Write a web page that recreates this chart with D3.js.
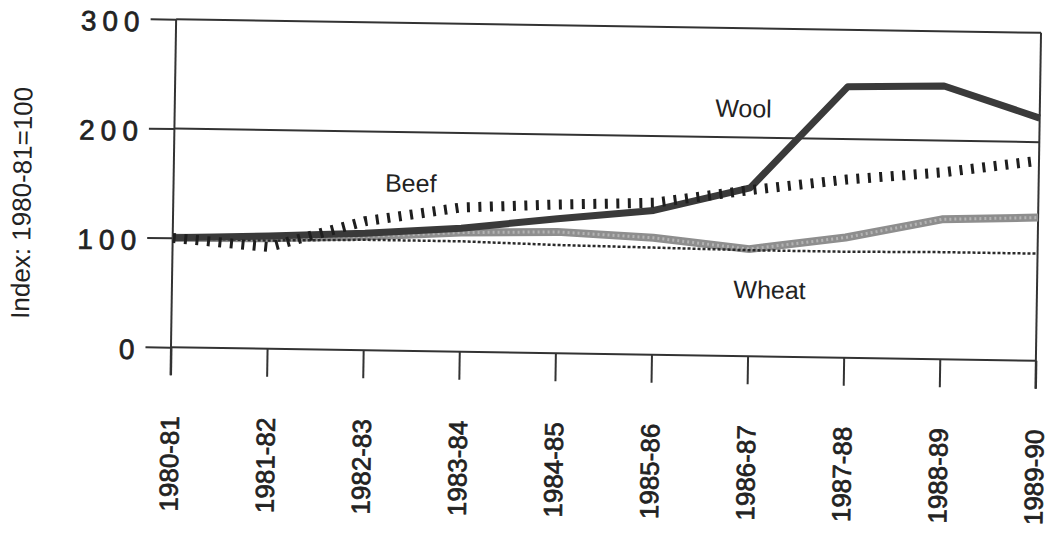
<!DOCTYPE html>
<html>
<head>
<meta charset="utf-8">
<script src="https://cdn.jsdelivr.net/npm/d3@7/dist/d3.min.js"></script>
<style>
  html, body { margin: 0; padding: 0; background: #ffffff; }
  svg { display: block; }
  text { font-family: "Liberation Sans", Arial, Helvetica, sans-serif; fill: #222; }
</style>
</head>
<body>
<div id="chart"></div>
<script>
// ---- data (index, 1980-81 = 100) ----
const years = ["1980-81","1981-82","1982-83","1983-84","1984-85","1985-86","1986-87","1987-88","1988-89","1989-90"];
const wool  = [100, 103, 107, 113, 123, 132, 154, 248, 250, 222];
const beef  = [100,  93, 118, 132, 136, 139, 152, 163, 171, 183];
const wheat = [100, 101, 104, 109, 111, 107,  98, 110, 128, 131];
const other = [100,  99, 101, 101,  99,  98,  97,  97,  98,  98];
const yTicks = [0, 100, 200, 300];
const yTitle = "Index: 1980-81=100";
const seriesLabels = ["Wool", "Beef", "Wheat"];

// ---- layout ----
const W = 1049, H = 539;
const plotL = 173.5, plotR = 1038.5, plotT = 26, plotB = 354;
const tickLen = 28;

const svg = d3.select("#chart").append("svg")
  .attr("width", W).attr("height", H);

// slight clockwise skew as in the scanned original
const g = svg.append("g").attr("transform", "rotate(0.9, 606, 190)");

const x = d3.scalePoint().domain(years).range([plotL, plotR]);
const y = d3.scaleLinear().domain([0, 300]).range([plotB, plotT]);

const axisColor = "#333";

// y axis ticks (left), drawn with d3.axisLeft
const yAxis = g.append("g")
  .attr("transform", `translate(${plotL},0)`)
  .call(d3.axisLeft(y).tickValues(yTicks).tickSize(plotL - 148).tickFormat(""));
yAxis.select(".domain").remove();
yAxis.selectAll(".tick line").attr("stroke", axisColor).attr("stroke-width", 2);

// y labels
g.selectAll(".ylab").data(yTicks).enter().append("text")
  .attr("class", "ylab")
  .attr("x", 143)
  .attr("y", d => y(d) + 3)
  .attr("text-anchor", "end")
  .attr("dominant-baseline", "central")
  .style("font-size", "28px")
  .style("letter-spacing", "6px")
  .style("stroke", "#222").style("stroke-width", "0.7px")
  .text(d => d);

// horizontal rules at 300, 200 and 0
g.selectAll(".hline").data([300, 200, 0]).enter().append("line")
  .attr("x1", plotL).attr("x2", plotR)
  .attr("y1", d => y(d)).attr("y2", d => y(d))
  .attr("stroke", axisColor).attr("stroke-width", 2);

// x axis ticks (below zero line)
const xAxis = g.append("g")
  .attr("transform", `translate(0,${y(0)})`)
  .call(d3.axisBottom(x).tickSize(tickLen).tickFormat(""));
xAxis.select(".domain").remove();
xAxis.selectAll(".tick line").attr("stroke", axisColor).attr("stroke-width", 2);

// left axis and right border
g.append("line").attr("x1", plotL).attr("x2", plotL)
  .attr("y1", y(300)).attr("y2", y(0) + tickLen)
  .attr("stroke", axisColor).attr("stroke-width", 2);
g.append("line").attr("x1", plotR).attr("x2", plotR)
  .attr("y1", y(300)).attr("y2", y(0) + tickLen)
  .attr("stroke", axisColor).attr("stroke-width", 2);

// x labels (rotated)
g.selectAll(".xlab").data(years).enter().append("text")
  .attr("class", "xlab")
  .attr("transform", d => `translate(${x(d)},${423}) rotate(-90)`)
  .attr("text-anchor", "end")
  .attr("dominant-baseline", "central")
  .style("font-size", "26px")
  .style("stroke", "#222").style("stroke-width", "0.7px")
  .text(d => d);

// y title
g.append("text")
  .attr("transform", `translate(22,212) rotate(-90)`)
  .attr("text-anchor", "middle")
  .attr("dominant-baseline", "central")
  .style("font-size", "26px")
  .text(yTitle);

// ---- series ----
const line = d3.line().x((d, i) => x(years[i])).y(d => y(d));

g.append("path").datum(wheat).attr("d", line)
  .attr("fill", "none").attr("stroke", "#8e8e8e").attr("stroke-width", 8)
  .attr("stroke-linejoin", "round");
g.append("path").datum(wheat).attr("d", line)
  .attr("fill", "none").attr("stroke", "#b4b4b4").attr("stroke-width", 3)
  .attr("stroke-dasharray", "2 3");

g.append("path").datum(other).attr("d", line)
  .attr("fill", "none").attr("stroke", "#2a2a2a").attr("stroke-width", 2.5)
  .attr("stroke-dasharray", "3 2");

g.append("path").datum(wool).attr("d", line)
  .attr("fill", "none").attr("stroke", "#3a3a3a").attr("stroke-width", 7)
  .attr("stroke-linejoin", "round");

g.append("path").datum(beef).attr("d", line)
  .attr("fill", "none").attr("stroke", "#1e1e1e").attr("stroke-width", 10)
  .attr("stroke-dasharray", "3 8.5");

// series labels
const labelPos = [[714, 115], [385, 195], [735, 296]];
g.selectAll(".slab").data(seriesLabels).enter().append("text")
  .attr("class", "slab")
  .attr("x", (d, i) => labelPos[i][0])
  .attr("y", (d, i) => labelPos[i][1])
  .style("font-size", "25px")
  .text(d => d);
</script>
</body>
</html>
